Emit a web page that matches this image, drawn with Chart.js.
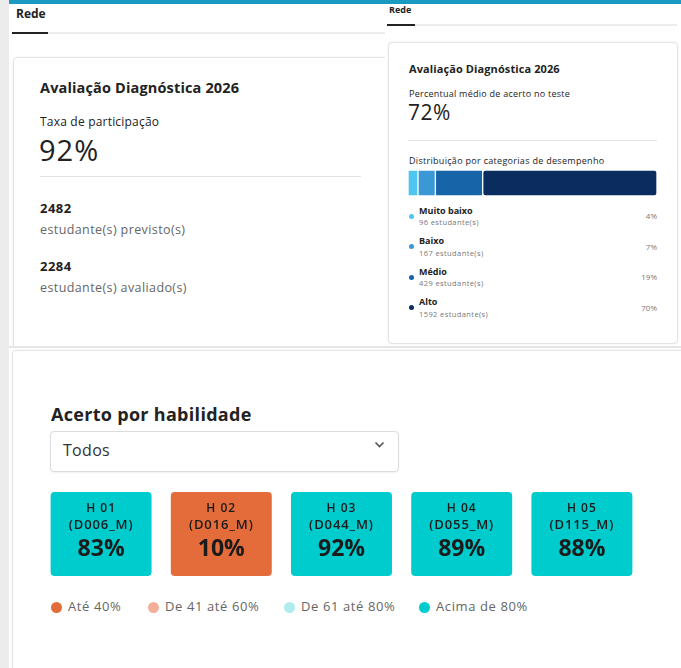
<!DOCTYPE html>
<html lang="pt">
<head>
<meta charset="UTF-8">
<title>Avaliação Diagnóstica 2026</title>
<script src="https://cdn.jsdelivr.net/npm/chart.js"></script>
<style>
  html, body { margin: 0; padding: 0; }
  body {
    width: 681px; height: 668px; overflow: hidden; position: relative;
    background: #ececec; font-family: "Open Sans", sans-serif; color: #222;
  }
  .abs { position: absolute; white-space: nowrap; }
  .topbar { left: 9px; top: 0; width: 672px; height: 4px; background: #1a9ac0; }
  .panel { background: #fff; }
  .card { border: 1px solid #e4e4e4; border-radius: 4px; background: #fff; box-shadow: 0 0 3px rgba(0,0,0,0.06); }
  .line { background: #ececec; }
  .dark { background: #222; }
  .t { line-height: 1; }
  .dot { border-radius: 50%; }
  .tile-text { text-align: center; color: #1b1b1b; }
</style>
</head>
<body>

<!-- left panel -->
<div class="abs panel" style="left:9px;top:4px;width:376px;height:343px;"></div>
<div class="abs topbar"></div>
<div class="abs t" style="left:16px;top:8px;font-size:12px;font-weight:700;">Rede</div>
<div class="abs line" style="left:12px;top:32px;width:373px;height:2px;"></div>
<div class="abs dark" style="left:12px;top:32px;width:36px;height:2px;"></div>

<div class="abs card" style="left:13px;top:57px;width:390px;height:320px;"></div>
<div class="abs t" style="left:40px;top:81px;font-size:14.5px;font-weight:700;letter-spacing:0.15px;">Avaliação Diagnóstica 2026</div>
<div class="abs t" style="left:40px;top:116px;font-size:12px;letter-spacing:0.2px;" id="partLabel">Taxa de participação</div>
<div class="abs t" style="left:39px;top:135px;font-size:29px;font-weight:500;letter-spacing:1px;" id="partValue"></div>
<div class="abs line" style="left:40px;top:176px;width:321px;height:1px;background:#e2e2e2;"></div>
<div class="abs t" style="left:40px;top:202px;font-size:13px;font-weight:700;letter-spacing:0.5px;" id="expected"></div>
<div class="abs t" style="left:40px;top:224px;font-size:12.5px;color:#666;letter-spacing:0.4px;">estudante(s) previsto(s)</div>
<div class="abs t" style="left:40px;top:260px;font-size:13px;font-weight:700;letter-spacing:0.5px;" id="evaluated"></div>
<div class="abs t" style="left:40px;top:282px;font-size:12.5px;color:#666;letter-spacing:0.4px;">estudante(s) avaliado(s)</div>

<!-- right panel -->
<div class="abs panel" style="left:385px;top:4px;width:296px;height:343px;"></div>
<div class="abs t" style="left:389px;top:5px;font-size:9px;font-weight:700;">Rede</div>
<div class="abs line" style="left:387px;top:24px;width:290px;height:2px;"></div>
<div class="abs dark" style="left:387px;top:24px;width:28px;height:2px;"></div>

<div class="abs card" style="left:388px;top:42px;width:288px;height:300px;"></div>
<div class="abs t" style="left:409px;top:63px;font-size:11px;font-weight:700;letter-spacing:0.1px;">Avaliação Diagnóstica 2026</div>
<div class="abs t" style="left:409px;top:89px;font-size:9px;letter-spacing:0.25px;">Percentual médio de acerto no teste</div>
<div class="abs t" style="left:408px;top:102px;font-size:21px;font-weight:500;letter-spacing:0.5px;" id="meanValue"></div>
<div class="abs line" style="left:408px;top:140px;width:249px;height:1px;background:#e2e2e2;"></div>
<div class="abs t" style="left:409px;top:156px;font-size:9px;letter-spacing:0.3px;">Distribuição por categorias de desempenho</div>
<div class="abs" style="left:408px;top:170px;width:249px;height:26px;">
  <canvas id="distChart" width="249" height="26"></canvas>
</div>
<div id="distLegend"></div>

<!-- bottom panel -->
<div class="abs panel" style="left:9px;top:347px;width:672px;height:321px;"></div>
<div class="abs line" style="left:9px;top:346px;width:672px;height:2px;background:#e6e6e6;"></div>
<div class="abs card" style="left:12px;top:350px;width:700px;height:340px;"></div>
<div class="abs t" style="left:51px;top:405px;font-size:18px;font-weight:700;letter-spacing:0.3px;">Acerto por habilidade</div>
<div class="abs" style="left:50px;top:431px;width:347px;height:39px;border:1px solid #dcdcdc;border-radius:4px;background:#fff;box-shadow:0 1px 2px rgba(0,0,0,0.06);"></div>
<div class="abs t" style="left:63px;top:442px;font-size:16px;color:#333;letter-spacing:0.3px;">Todos</div>
<svg class="abs" style="left:374px;top:441px;" width="11" height="8" viewBox="0 0 11 8">
  <polyline points="1.5,1.5 5.5,5.5 9.5,1.5" fill="none" stroke="#555" stroke-width="1.6"/>
</svg>
<div class="abs" id="tileBox" style="left:41px;top:492px;width:601px;height:84px;">
  <canvas id="tileChart" width="601" height="84"></canvas>
</div>
<div id="tileTexts"></div>
<div id="tileLegend"></div>

<script>
// summary numbers
var participationRate = 92;
var studentsExpected = 2482;
var studentsEvaluated = 2284;
var meanScore = 72;

// performance distribution
var categoryNames = ['Muito baixo', 'Baixo', 'Médio', 'Alto'];
var categoryStudents = [96, 167, 429, 1592];
var categoryPercents = [4, 7, 19, 70];
var categoryColors = ['#4fc6f0', '#3a98d6', '#1765a8', '#0b2c5e'];

// skills
var skillLabels = ['H 01', 'H 02', 'H 03', 'H 04', 'H 05'];
var skillCodes = ['D006_M', 'D016_M', 'D044_M', 'D055_M', 'D115_M'];
var skillScores = [83, 10, 92, 89, 88];

// score bands
var bandLabels = ['Até 40%', 'De 41 até 60%', 'De 61 até 80%', 'Acima de 80%'];
var bandLimits = [40, 60, 80, 100];
var bandColors = ['#e36c3a', '#f2b09a', '#aeecf0', '#00cbcd'];

document.getElementById('partValue').textContent = participationRate + '%';
document.getElementById('expected').textContent = studentsExpected;
document.getElementById('evaluated').textContent = studentsEvaluated;
document.getElementById('meanValue').textContent = meanScore + '%';

// stacked distribution bar
var distChart = new Chart(document.getElementById('distChart').getContext('2d'), {
    type: 'bar',
    data: {
        labels: [''],
        datasets: categoryNames.map(function (name, i) {
            return {
                label: name,
                data: [categoryPercents[i]],
                backgroundColor: categoryColors[i],
                borderColor: '#fff',
                borderWidth: 1,
                borderRadius: 3,
                borderSkipped: false,
                barPercentage: 1,
                categoryPercentage: 1
            };
        })
    },
    options: {
        indexAxis: 'y',
        responsive: false,
        animation: false,
        layout: { padding: 0 },
        scales: {
            x: { stacked: true, display: false, min: 0, max: 100 },
            y: { stacked: true, display: false }
        },
        plugins: { legend: { display: false }, tooltip: { enabled: false } }
    }
});

var distLegend = document.getElementById('distLegend');
categoryNames.forEach(function (name, i) {
    var y = 216 + i * 30.5;
    distLegend.innerHTML +=
        '<div class="abs dot" style="left:408.5px;top:' + (y - 2.5) + 'px;width:5px;height:5px;background:' + categoryColors[i] + ';"></div>' +
        '<div class="abs t" style="left:419px;top:' + (y - 10.5) + 'px;font-size:9px;font-weight:700;">' + name + '</div>' +
        '<div class="abs t" style="left:419px;top:' + (y + 3) + 'px;font-size:7.5px;color:#777;letter-spacing:0.4px;">' + categoryStudents[i] + ' estudante(s)</div>' +
        '<div class="abs t" style="left:600px;width:57px;text-align:right;top:' + (y - 4) + 'px;font-size:8px;color:#777;">' + categoryPercents[i] + '%</div>';
});

function bandColor(score) {
    for (var i = 0; i < bandLimits.length; i++) {
        if (score <= bandLimits[i]) return bandColors[i];
    }
    return bandColors[bandColors.length - 1];
}

// skill tiles
var tileChart = new Chart(document.getElementById('tileChart').getContext('2d'), {
    type: 'bar',
    data: {
        labels: skillLabels,
        datasets: [{
            data: skillScores.map(function () { return 1; }),
            backgroundColor: skillScores.map(bandColor),
            borderRadius: 4,
            borderSkipped: false,
            barPercentage: 0.84,
            categoryPercentage: 1
        }]
    },
    options: {
        responsive: false,
        animation: false,
        layout: { padding: 0 },
        scales: {
            x: { display: false },
            y: { display: false, min: 0, max: 1 }
        },
        plugins: { legend: { display: false }, tooltip: { enabled: false } }
    }
});

var tileTexts = document.getElementById('tileTexts');
tileChart.getDatasetMeta(0).data.forEach(function (bar, i) {
    var cx = 41 + bar.x;
    tileTexts.innerHTML +=
        '<div class="abs t tile-text" style="left:' + (cx - 50) + 'px;width:100px;top:502px;font-size:12px;font-weight:600;letter-spacing:1px;">' + skillLabels[i] + '</div>' +
        '<div class="abs t tile-text" style="left:' + (cx - 50) + 'px;width:100px;top:518px;font-size:13px;font-weight:600;letter-spacing:0.9px;">(' + skillCodes[i] + ')</div>' +
        '<div class="abs t tile-text" style="left:' + (cx - 50) + 'px;width:100px;top:536px;font-size:23px;font-weight:700;">' + skillScores[i] + '%</div>';
});

var legendX = [56, 153, 289, 424];
var tileLegend = document.getElementById('tileLegend');
bandLabels.forEach(function (label, i) {
    tileLegend.innerHTML +=
        '<div class="abs dot" style="left:' + (legendX[i] - 5.5) + 'px;top:602px;width:11px;height:11px;background:' + bandColors[i] + ';"></div>' +
        '<div class="abs t" style="left:' + (legendX[i] + 12) + 'px;top:600px;font-size:13px;color:#666;letter-spacing:0.6px;">' + label + '</div>';
});
</script>
</body>
</html>
